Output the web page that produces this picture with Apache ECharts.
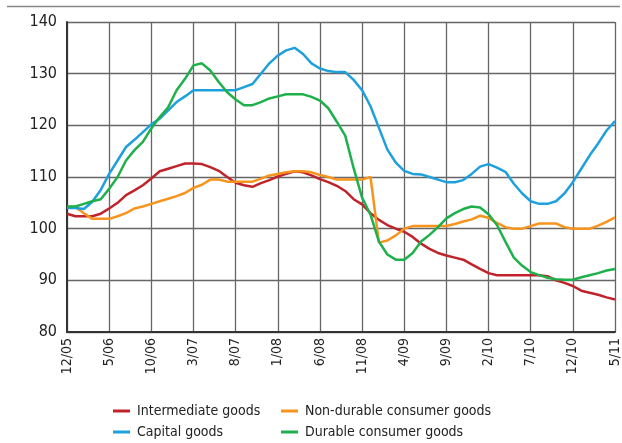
<!DOCTYPE html>
<html>
<head>
<meta charset="utf-8">
<script src="https://cdn.jsdelivr.net/npm/echarts@6/dist/echarts.min.js"></script>
<style>
  html, body { margin: 0; padding: 0; background: #fff; }
  #chart { width: 622px; height: 443px; }
</style>
</head>
<body>
<div id="chart"></div>
<script>
var months = ['12/05',
  '1/06','2/06','3/06','4/06','5/06','6/06','7/06','8/06','9/06','10/06','11/06','12/06',
  '1/07','2/07','3/07','4/07','5/07','6/07','7/07','8/07','9/07','10/07','11/07','12/07',
  '1/08','2/08','3/08','4/08','5/08','6/08','7/08','8/08','9/08','10/08','11/08','12/08',
  '1/09','2/09','3/09','4/09','5/09','6/09','7/09','8/09','9/09','10/09','11/09','12/09',
  '1/10','2/10','3/10','4/10','5/10','6/10','7/10','8/10','9/10','10/10','11/10','12/10',
  '1/11','2/11','3/11','4/11','5/11'];

var intermediate = [102.9,102.4,102.4,102.4,102.9,103.9,105.0,106.5,107.4,108.4,109.7,111.1,111.6,112.1,112.6,112.6,
  112.5,111.9,111.2,110.0,108.9,108.4,108.1,108.8,109.4,110.1,110.6,111.1,110.9,110.3,109.6,
  109.0,108.3,107.3,105.7,104.7,103.0,101.7,100.7,100.0,99.4,98.4,97.1,96.1,95.3,94.8,94.4,
  94.0,93.1,92.2,91.4,91.0,91.0,91.0,91.0,91.0,91.0,90.8,90.0,89.5,88.9,88.0,87.6,87.2,86.7,86.3];

var nonDurable = [104.2,104.2,103.0,101.9,101.9,101.9,102.4,103.0,103.9,104.3,104.8,105.3,105.8,106.3,106.9,107.9,
  108.5,109.5,109.5,109.1,109.1,109.1,109.1,109.7,110.3,110.6,110.9,111.1,111.1,110.9,110.4,
  110.0,109.5,109.5,109.5,109.5,110.0,97.3,97.7,98.7,100.0,100.5,100.5,100.5,100.5,100.5,100.9,
  101.4,101.8,102.5,102.1,101.1,100.3,100.0,100.0,100.5,101.0,101.0,101.0,100.3,100.0,100.0,100.0,100.6,101.3,102.2];

var capital = [104.0,104.0,103.8,105.2,107.5,110.6,113.2,115.8,117.2,118.7,120.2,121.3,122.9,124.5,125.6,126.8,
  126.8,126.8,126.8,126.8,126.8,127.4,128.0,130.0,132.0,133.5,134.5,135.0,133.8,132.0,131.0,
  130.5,130.3,130.3,128.8,126.8,123.7,119.5,115.3,112.8,111.2,110.6,110.5,110.0,109.5,109.0,109.0,
  109.4,110.6,112.0,112.5,111.8,111.0,108.7,106.8,105.3,104.8,104.8,105.3,106.8,109.0,111.6,114.2,116.5,119.0,120.8];

var durable = [104.3,104.3,104.8,105.3,105.7,107.7,110.0,113.2,115.2,116.8,119.4,121.6,123.5,126.8,129.0,131.6,
  132.0,130.6,128.4,126.4,125.0,123.9,123.9,124.5,125.2,125.6,126.0,126.0,126.0,125.5,124.8,
  123.3,120.7,118.0,111.7,106.0,102.7,97.5,95.0,94.0,94.0,95.3,97.5,98.8,100.3,102.0,103.0,
  103.8,104.3,104.1,102.8,100.7,97.5,94.4,92.8,91.6,91.0,90.5,90.2,90.1,90.1,90.6,91.0,91.4,91.9,92.2];

var yTicks = [80, 90, 100, 110, 120, 130, 140];

var font = '"Liberation Sans Narrow", "DejaVu Sans Condensed", Arial, sans-serif';
var colors = {
    intermediate: '#c1232b',
    nonDurable: '#f7941d',
    capital: '#1ea0dc',
    durable: '#1eb04b'
};

var chart = echarts.init(document.getElementById('chart'));

var lineSeries = function(name, data, color){
    return {
        name: name,
        type: 'line',
        data: data,
        symbol: 'none',
        smooth: false,
        lineStyle: { color: color, width: 2.5 },
        itemStyle: { color: color }
    };
};

var legendStyle = function(left, names){
    return {
        orient: 'vertical',
        left: left, top: 402,
        height: 60,
        padding: 0,
        itemWidth: 17, itemHeight: 3, itemGap: 3,
        icon: 'rect',
        textStyle: { fontFamily: font, fontSize: 14, color: '#222', lineHeight: 18, padding: [0, 0, 0, 2] },
        data: names
    };
};

var option = {
    animation: false,
    grid: { left: 67, right: 4, top: 22, bottom: 111 },
    legend: [
        legendStyle(113, ['Intermediate goods', 'Capital goods']),
        legendStyle(281, ['Non-durable consumer goods', 'Durable consumer goods'])
    ],
    xAxis: {
        type: 'category',
        data: months,
        boundaryGap: false,
        axisLine: { lineStyle: { color: '#333', width: 2 } },
        axisTick: { show: false },
        axisLabel: {
            interval: 4,
            rotate: 90,
            margin: 6,
            fontFamily: font,
            fontSize: 14,
            color: '#222'
        },
        splitLine: {
            show: true,
            interval: 4,
            lineStyle: { color: '#666', width: 1.3 }
        }
    },
    yAxis: {
        type: 'value',
        min: yTicks[0],
        max: yTicks[yTicks.length - 1],
        interval: 10,
        axisLine: { show: true, lineStyle: { color: '#333', width: 2 } },
        axisTick: { show: false },
        axisLabel: { fontFamily: font, fontSize: 16, color: '#222', margin: 10 },
        splitLine: { lineStyle: { color: '#666', width: 1.3 } }
    },
    graphic: [
        {
            type: 'line',
            shape: { x1: 7, y1: 6.5, x2: 620, y2: 6.5 },
            style: { stroke: '#888', lineWidth: 1.5 }
        }
    ],
    series: [
        lineSeries('Intermediate goods', intermediate, colors.intermediate),
        lineSeries('Non-durable consumer goods', nonDurable, colors.nonDurable),
        lineSeries('Capital goods', capital, colors.capital),
        lineSeries('Durable consumer goods', durable, colors.durable)
    ]
};
chart.setOption(option);
</script>
</body>
</html>
